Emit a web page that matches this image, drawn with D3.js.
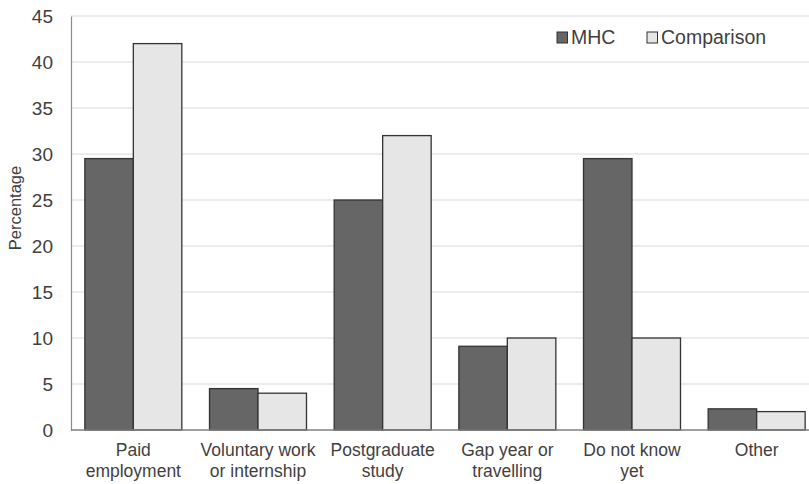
<!DOCTYPE html>
<html>
<head>
<meta charset="utf-8">
<script src="https://cdn.jsdelivr.net/npm/d3@7"></script>
<style>
  body { margin: 0; background: #fff; }
  text { font-family: "Liberation Sans", Arial, sans-serif; fill: #3f3f3f; }
</style>
</head>
<body>
<div id="chart"></div>
<script>
const categories = [
  ["Paid", "employment"],
  ["Voluntary work", "or internship"],
  ["Postgraduate", "study"],
  ["Gap year or", "travelling"],
  ["Do not know", "yet"],
  ["Other"]
];
const seriesNames = ["MHC", "Comparison"];
const mhcValues = [29.5, 4.5, 25.0, 9.1, 29.5, 2.3];
const comparisonValues = [42.0, 4.0, 32.0, 10.0, 10.0, 2.0];
const yTicks = [0, 5, 10, 15, 20, 25, 30, 35, 40, 45];

const COLORS = ["#666666", "#e6e6e6"];
const width = 809, height = 484;

let svg = d3.select("#chart").append("svg")
  .attr("width", width)
  .attr("height", height);

let y = d3.scaleLinear().domain([0, 45]).range([430, 16]);
let x = d3.scaleBand()
  .domain(d3.range(categories.length))
  .range([71, 819])
  .paddingInner(0.222)
  .paddingOuter(0.111);
let x1 = d3.scaleBand().domain([0, 1]).range([0, x.bandwidth()]);

// gridlines
svg.append("g")
  .selectAll("line")
  .data(yTicks.filter(d => d > 0))
  .join("line")
  .attr("x1", 71).attr("x2", width)
  .attr("y1", d => y(d)).attr("y2", d => y(d))
  .attr("stroke", "#d9d9d9").attr("stroke-width", 1.2);

// y axis
let yAxis = svg.append("g")
  .attr("transform", "translate(71,0)")
  .call(d3.axisLeft(y).tickValues(yTicks).tickSize(0).tickPadding(18));
yAxis.select(".domain").attr("stroke", "#8c8c8c").attr("stroke-width", 1.2);
yAxis.selectAll("text").attr("font-size", "19px").attr("fill", "#3f3f3f")
  .style("font-family", "Liberation Sans, Arial, sans-serif");

// bars
let data = categories.map((c, i) => [mhcValues[i], comparisonValues[i]]);
svg.append("g")
  .selectAll("g")
  .data(data)
  .join("g")
  .attr("transform", (d, i) => "translate(" + x(i) + ",0)")
  .selectAll("rect")
  .data(d => d)
  .join("rect")
  .attr("x", (d, j) => x1(j))
  .attr("y", d => y(d))
  .attr("width", x1.bandwidth())
  .attr("height", d => y(0) - y(d))
  .attr("fill", (d, j) => COLORS[j])
  .attr("stroke", "#333")
  .attr("stroke-width", 1.3);

// baseline
svg.append("line")
  .attr("x1", 71).attr("x2", width)
  .attr("y1", y(0)).attr("y2", y(0))
  .attr("stroke", "#7f7f7f").attr("stroke-width", 1.5);

// x labels
let xl = svg.append("g")
  .selectAll("text")
  .data(categories)
  .join("text")
  .attr("text-anchor", "middle")
  .attr("font-size", "17.5px")
  .attr("x", (d, i) => x(i) + x.bandwidth() / 2)
  .attr("y", 456);
xl.selectAll("tspan")
  .data(d => d)
  .join("tspan")
  .attr("x", function () { return d3.select(this.parentNode).attr("x"); })
  .attr("dy", (d, i) => i === 0 ? 0 : 21)
  .text(d => d);

// y title
svg.append("text")
  .attr("transform", "translate(21,208) rotate(-90)")
  .attr("text-anchor", "middle")
  .attr("font-size", "16.5px")
  .text("Percentage");

// legend
let legendX = [557, 647];
let lg = svg.append("g")
  .selectAll("g")
  .data(seriesNames)
  .join("g")
  .attr("transform", (d, i) => "translate(" + legendX[i] + ",32)");
lg.append("rect")
  .attr("width", 10.5).attr("height", 11)
  .attr("fill", (d, i) => COLORS[i])
  .attr("stroke", "#333").attr("stroke-width", 1);
lg.append("text")
  .attr("x", 14).attr("y", 12)
  .attr("font-size", "19.5px")
  .text(d => d);
</script>
</body>
</html>
